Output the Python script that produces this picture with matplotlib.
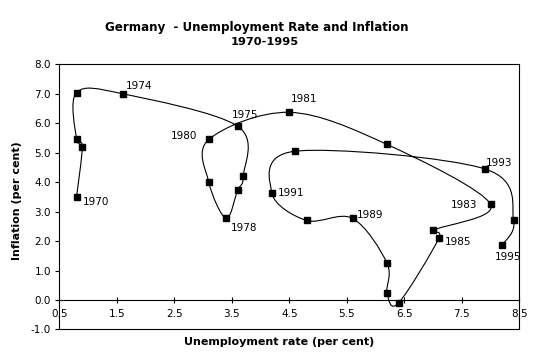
import numpy as np
import matplotlib
matplotlib.use('Agg')
import matplotlib.pyplot as plt
from matplotlib.path import Path
from matplotlib.patches import PathPatch
from matplotlib.transforms import IdentityTransform

plt.rcParams['font.family'] = ['DejaVu Sans']

# Germany 1970-1995
years = list(range(1970, 1996))
unemployment = [0.8, 0.9, 0.8, 0.8, 1.6, 3.6, 3.7, 3.6, 3.4, 3.1, 3.1, 4.5, 6.2,
                8.0, 7.0, 7.1, 6.4, 6.2, 6.2, 5.6, 4.8, 4.2, 4.6, 7.9, 8.4, 8.2]
inflation = [3.5, 5.2, 5.45, 7.04, 7.0, 5.9, 4.2, 3.72, 2.77, 4.0, 5.45, 6.37, 5.28,
             3.25, 2.36, 2.09, -0.1, 0.23, 1.25, 2.77, 2.7, 3.62, 5.05, 4.45, 2.7, 1.86]

labelled_years = [1970, 1974, 1975, 1978, 1980, 1981, 1983, 1985, 1989, 1991, 1993, 1995]
# label offsets in pixels and alignment
label_style = {
    1970: (6, -5, 'left'),
    1974: (3, 8, 'left'),
    1975: (-6, 11, 'left'),
    1978: (5, -10, 'left'),
    1980: (-12, 3, 'right'),
    1981: (2, 13, 'left'),
    1983: (-13, -1, 'right'),
    1985: (6, -4, 'left'),
    1989: (4, 3, 'left'),
    1991: (6, 0, 'left'),
    1993: (1, 6, 'left'),
    1995: (-7, -12, 'left'),
}

fig = plt.figure(figsize=(5.41, 3.64), dpi=100)
ax = fig.add_axes([0.1096, 0.0948, 0.8503, 0.7286])
ax.set_xlim(0.5, 8.5)
ax.set_ylim(-1, 8)

# smoothed line (catmull-rom style bezier, computed in screen space like Excel)
pts = ax.transData.transform(np.column_stack([unemployment, inflation]))
ext = np.vstack([pts[0], pts, pts[-1]])
verts = [pts[0]]
codes = [Path.MOVETO]
for i in range(len(pts) - 1):
    p0, p1, p2, p3 = ext[i], ext[i + 1], ext[i + 2], ext[i + 3]
    c1 = p1 + (p2 - p0) / 6
    c2 = p2 - (p3 - p1) / 6
    verts += [c1, c2, p2]
    codes += [Path.CURVE4] * 3
curve = PathPatch(Path(verts, codes), transform=IdentityTransform(),
                  facecolor='none', edgecolor='black', lw=0.8)
ax.add_patch(curve)

ax.plot(unemployment, inflation, linestyle='none', marker='s', markersize=5,
        color='black')

for yr in labelled_years:
    i = years.index(yr)
    dx, dy, ha = label_style[yr]
    ax.annotate(str(yr), (unemployment[i], inflation[i]), xytext=(dx, dy),
                textcoords='offset pixels', ha=ha, va='center', fontsize=7.5)

ax.set_xticks(np.arange(0.5, 8.6, 1.0))
ax.set_yticks(np.arange(-1, 8.1, 1.0))
ax.set_xticklabels([f'{v:.1f}' for v in np.arange(0.5, 8.6, 1.0)])
ax.set_yticklabels([f'{v:.1f}' for v in np.arange(-1, 8.1, 1.0)])
ax.tick_params(axis='x', direction='inout', length=4.5, width=0.8, pad=4, labelsize=7.5)
ax.tick_params(axis='y', direction='out', length=3, width=0.8, pad=3, labelsize=7.5)

ax.spines['bottom'].set_position(('data', 0))
for s in ax.spines.values():
    s.set_linewidth(0.8)
ax.axhline(-1, color='black', lw=0.8, clip_on=False)

fig.text(0.475, 0.925, 'Germany  - Unemployment Rate and Inflation', ha='center',
         va='center', fontsize=8.6, fontweight='bold')
fig.text(0.49, 0.885, '1970-1995', ha='center', va='center', fontsize=8.2,
         fontweight='bold')
fig.text(0.516, 0.061, 'Unemployment rate (per cent)', ha='center', va='center',
         fontsize=8, fontweight='bold')
fig.text(0.031, 0.448, 'Inflation (per cent)', ha='center', va='center',
         rotation=90, fontsize=8, fontweight='bold')

fig.savefig('out.png', dpi=100)
